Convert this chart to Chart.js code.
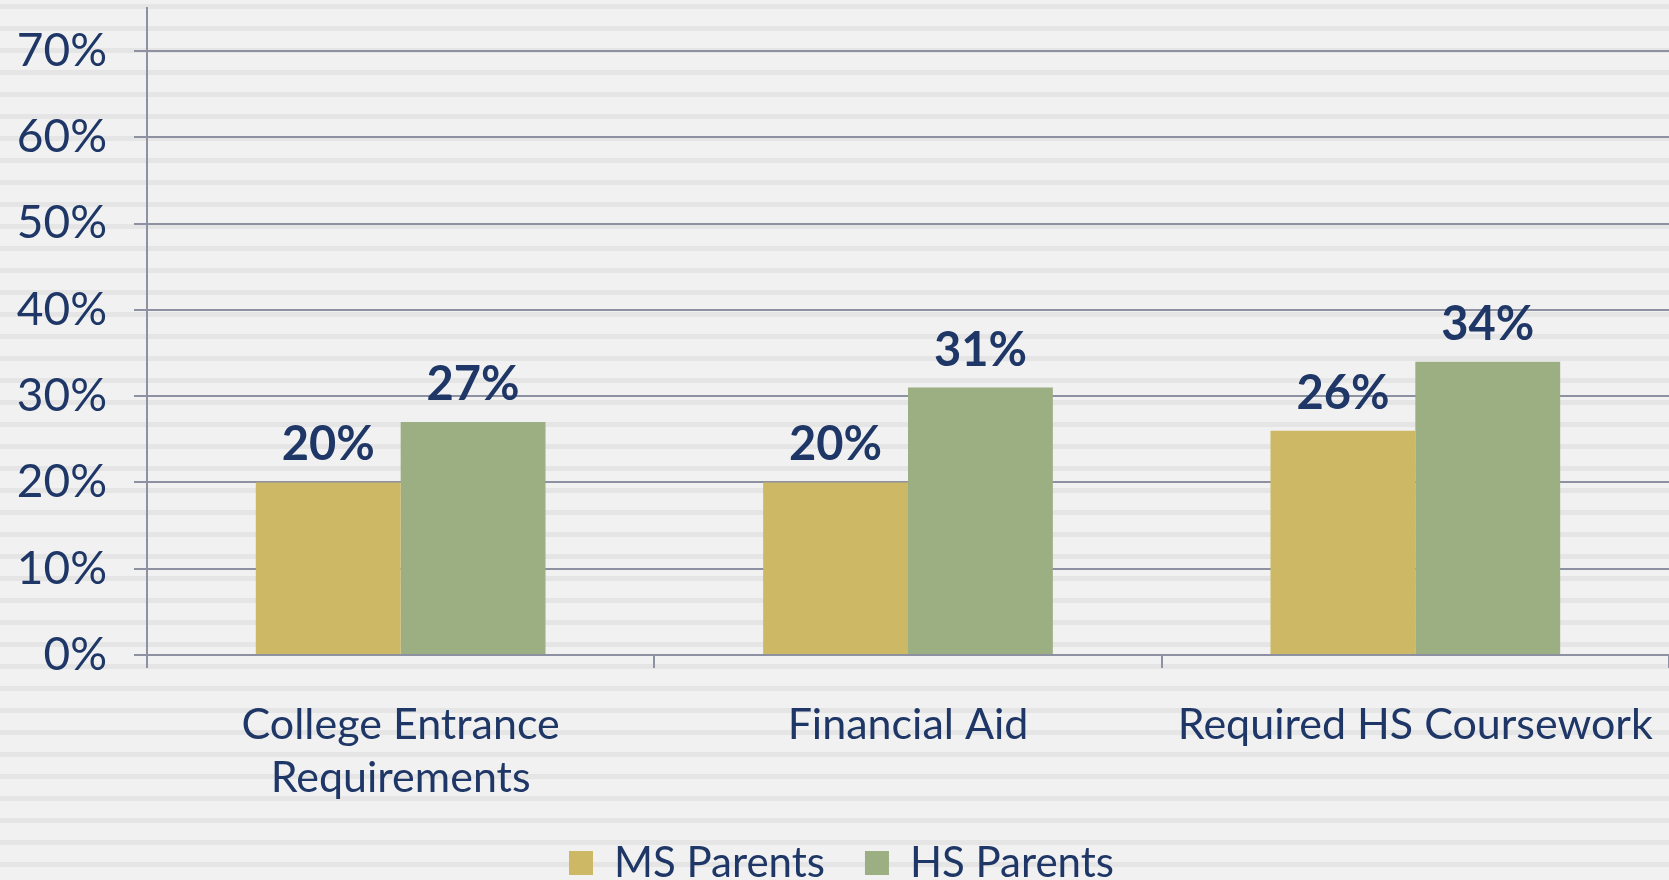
<!DOCTYPE html>
<html>
<head>
<meta charset="utf-8">
<script src="https://cdn.jsdelivr.net/npm/chart.js@4"></script>
<style>
  html, body { margin: 0; padding: 0; overflow: hidden; }
  body {
    width: 1669px;
    height: 880px;
    background: repeating-linear-gradient(to bottom,
      #f1f1f1 0px, #f1f1f1 4px, #e5e5e5 4px, #e5e5e5 9px, #f1f1f1 9px, #f1f1f1 22px);
  }
  #wrap { position: relative; width: 1669px; height: 894px; }
</style>
</head>
<body>
<div id="wrap"><canvas id="chart"></canvas></div>
<script>
const categories = [['College Entrance', 'Requirements'], 'Financial Aid', 'Required HS Coursework'];
const seriesNames = ['MS Parents', 'HS Parents'];
const msParents = [20, 20, 26];
const hsParents = [27, 31, 34];
const yTicks = [0, 10, 20, 30, 40, 50, 60, 70];

const navy = '#1f3766';
const gridColor = '#8d91a1';
const fontFamily = 'Lato, "Open Sans", sans-serif';

// value labels above each bar
const barLabels = {
  id: 'barLabels',
  afterDatasetsDraw(chart) {
    const ctx = chart.ctx;
    ctx.save();
    ctx.font = 'bold 47px ' + fontFamily;
    ctx.fillStyle = navy;
    ctx.textAlign = 'center';
    ctx.textBaseline = 'alphabetic';
    chart.data.datasets.forEach((ds, i) => {
      chart.getDatasetMeta(i).data.forEach((bar, j) => {
        ctx.fillText(ds.data[j] + '%', bar.x, bar.y - 22);
      });
    });
    ctx.restore();
  }
};

// legend in the reference sits a little right of the canvas centre
const shiftLegend = {
  id: 'shiftLegend',
  afterLayout(chart) {
    const lg = chart.legend;
    if (!lg) return;
    lg.left += 7;
    lg.right += 7;
  }
};

new Chart(document.getElementById('chart'), {
  type: 'bar',
  data: {
    labels: categories,
    datasets: [
      { label: seriesNames[0], data: msParents, backgroundColor: '#cdb865' },
      { label: seriesNames[1], data: hsParents, backgroundColor: '#9caf82' }
    ]
  },
  options: {
    responsive: true,
    maintainAspectRatio: false,
    animation: false,
    layout: { padding: { top: 8, right: 0, left: 0, bottom: 0 } },
    datasets: { bar: { barPercentage: 1, categoryPercentage: 0.571 } },
    plugins: {
      tooltip: { enabled: false },
      legend: {
        position: 'bottom',
        labels: {
          boxWidth: 24,
          boxHeight: 24,
          padding: 40,
          color: navy,
          font: { family: fontFamily, size: 42 }
        }
      }
    },
    scales: {
      x: {
        offset: true,
        grid: { offset: true, drawOnChartArea: false, drawTicks: true, tickLength: 13, color: gridColor, lineWidth: 2 },
        border: { color: gridColor, width: 2 },
        ticks: { color: navy, padding: 31, maxRotation: 0, font: { family: fontFamily, size: 43, lineHeight: 1.22 } },
        afterFit(scale) { scale.height = 147; scale.paddingLeft = 0; scale.paddingRight = 0; }
      },
      y: {
        min: 0,
        max: 75,
        afterBuildTicks(scale) { scale.ticks = yTicks.map(v => ({ value: v })); },
        grid: { color: gridColor, lineWidth: 2, tickLength: 13 },
        border: { color: gridColor, width: 2 },
        ticks: { color: navy, padding: 27, callback: v => v + '%', font: { family: fontFamily, size: 46 } },
        afterFit(scale) { scale.width = 147; scale.paddingTop = 0; scale.paddingBottom = 0; }
      }
    }
  },
  plugins: [barLabels, shiftLegend]
});
</script>
</body>
</html>
